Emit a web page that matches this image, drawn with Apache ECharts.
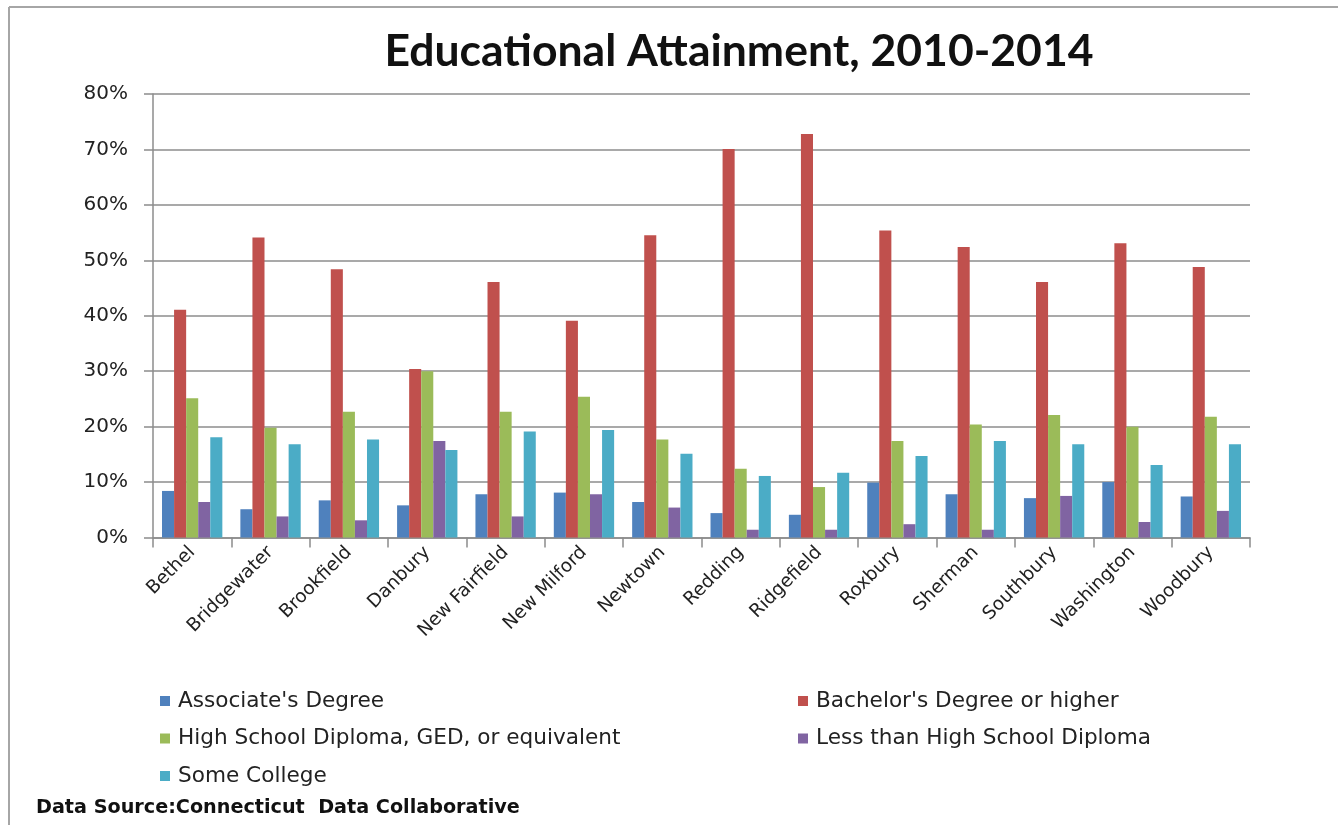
<!DOCTYPE html>
<html>
<head>
<meta charset="utf-8">
<title>Educational Attainment, 2010-2014</title>
<script src="https://cdn.jsdelivr.net/npm/echarts@6/dist/echarts.min.js"></script>
<style>
  html, body { margin: 0; padding: 0; background: #ffffff; }
  #chart { width: 1338px; height: 825px; }
</style>
</head>
<body>
<div id="chart"></div>
<script>
// Towns in the region
const towns = ['Bethel', 'Bridgewater', 'Brookfield', 'Danbury', 'New Fairfield', 'New Milford',
  'Newtown', 'Redding', 'Ridgefield', 'Roxbury', 'Sherman', 'Southbury', 'Washington', 'Woodbury'];

// Share of adults 25+ by highest level of education (%)
const associates   = [8.4, 5.1, 6.7, 5.8, 7.8, 8.1, 6.4, 4.4, 4.1, 9.9, 7.8, 7.1, 10.0, 7.4];
const bachelors    = [41.1, 54.1, 48.4, 30.4, 46.1, 39.1, 54.5, 70.1, 72.8, 55.4, 52.4, 46.1, 53.1, 48.8];
const highSchool   = [25.1, 19.8, 22.7, 30.0, 22.7, 25.4, 17.7, 12.4, 9.1, 17.4, 20.4, 22.1, 20.0, 21.8];
const lessThanHS   = [6.4, 3.8, 3.1, 17.4, 3.8, 7.8, 5.4, 1.4, 1.4, 2.4, 1.4, 7.5, 2.8, 4.8];
const someCollege  = [18.1, 16.8, 17.7, 15.8, 19.1, 19.4, 15.1, 11.1, 11.7, 14.7, 17.4, 16.8, 13.1, 16.8];

// Value axis ticks (%)
const yMin = 0, yMax = 80, yStep = 10;

const seriesNames = ["Associate's Degree", "Bachelor's Degree or higher",
  "High School Diploma, GED, or equivalent", "Less than High School Diploma", "Some College"];
const seriesData = [associates, bachelors, highSchool, lessThanHS, someCollege];
const colors = ['#4F81BD', '#C0504D', '#9BBB59', '#8064A2', '#4BACC6'];

const labelFont = 'DejaVu Sans';
const axisGray = '#8c8c8c';

const chart = echarts.init(document.getElementById('chart'), null, { renderer: 'canvas' });

const legendCommon = {
  orient: 'vertical',
  itemWidth: 10,
  itemHeight: 10,
  itemGap: 13.5,
  icon: 'rect',
  textStyle: { fontFamily: labelFont, fontSize: 21.6, color: '#222', lineHeight: 24, padding: [0, 0, 0, 3] }
};

chart.setOption({
  backgroundColor: '#ffffff',
  animation: false,
  color: colors,
  title: {
    text: 'Educational Attainment, 2010-2014',
    left: 734,
    top: 24,
    textAlign: 'center',
    textStyle: { fontFamily: 'Lato', fontWeight: 'bold', fontSize: 44.5, color: '#111' }
  },
  legend: [
    Object.assign({}, legendCommon, { left: 155, top: 684, data: [seriesNames[0], seriesNames[2], seriesNames[4]] }),
    Object.assign({}, legendCommon, { left: 793, top: 684, data: [seriesNames[1], seriesNames[3]] })
  ],
  grid: { left: 153, right: 88, top: 94, bottom: 287.5, containLabel: false },
  xAxis: {
    type: 'category',
    data: towns,
    boundaryGap: true,
    axisLine: { show: true, lineStyle: { color: axisGray, width: 1.5 } },
    axisTick: { show: true, interval: 0, length: 10, lineStyle: { color: axisGray, width: 1.5 } },
    axisLabel: { interval: 0, rotate: 45, margin: 12, fontFamily: labelFont, fontSize: 18.5, color: '#222' }
  },
  yAxis: {
    type: 'value',
    min: yMin,
    max: yMax,
    interval: yStep,
    axisLine: { show: true, lineStyle: { color: axisGray, width: 1.5 } },
    axisTick: { show: true, length: 9, lineStyle: { color: axisGray, width: 1.5 } },
    axisLabel: { formatter: '{value}%', margin: 25, fontFamily: labelFont, fontSize: 20, color: '#222' },
    splitLine: { show: true, lineStyle: { color: axisGray, width: 1.5 } }
  },
  series: seriesNames.map((name, i) => ({
    name: name,
    type: 'bar',
    data: seriesData[i],
    barGap: '0%',
    barCategoryGap: '23%',
    itemStyle: { color: colors[i] }
  })),
  graphic: [
    { type: 'line', shape: { x1: 9, y1: 7, x2: 1338, y2: 7 }, style: { stroke: '#a6a6a6', lineWidth: 2 } },
    { type: 'line', shape: { x1: 9, y1: 7, x2: 9, y2: 825 }, style: { stroke: '#a6a6a6', lineWidth: 2 } },
    {
      type: 'text', left: 36, top: 799,
      style: { text: 'Data Source:Connecticut  Data Collaborative', fontFamily: labelFont, fontWeight: 'bold', fontSize: 19.2, fill: '#111' }
    }
  ]
});
</script>
</body>
</html>
